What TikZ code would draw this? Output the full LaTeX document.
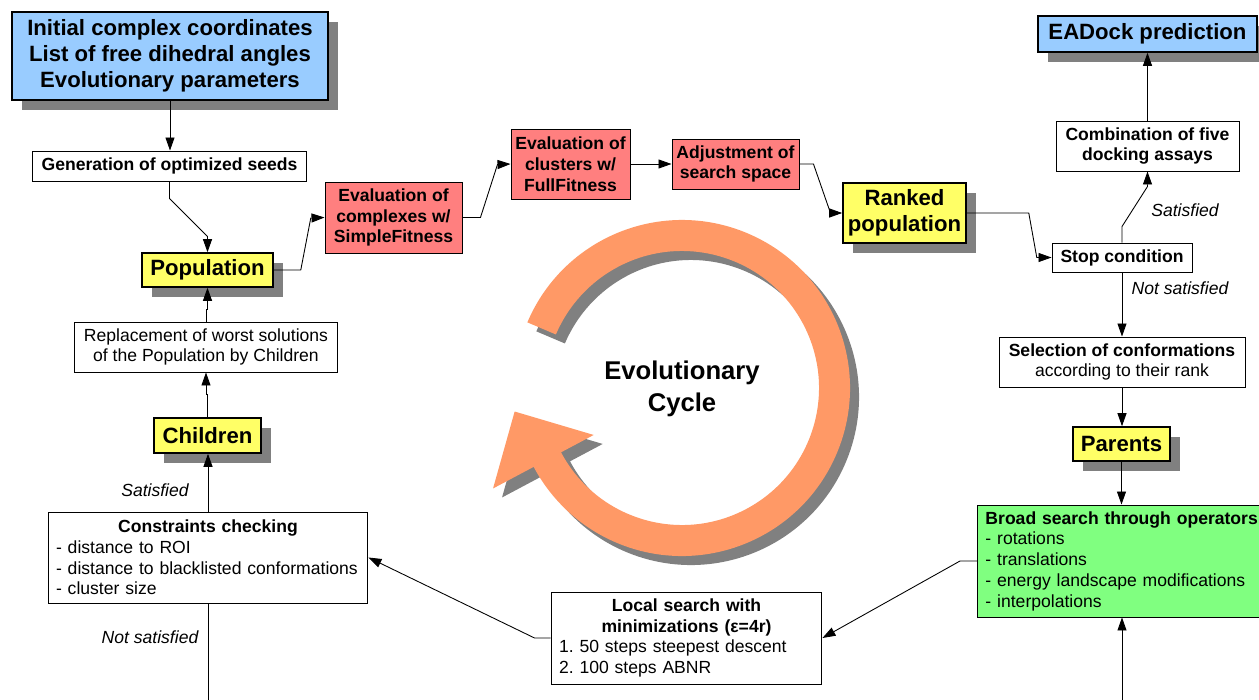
\documentclass[tikz,border=0pt]{standalone}
\usepackage{fontspec}
\setmainfont{Liberation Sans}
\usetikzlibrary{arrows.meta,shadows}
\frenchspacing

\definecolor{inblue}{HTML}{99CCFF}
\definecolor{popyellow}{HTML}{FFFF66}
\definecolor{evalred}{HTML}{FF7F7F}
\definecolor{opgreen}{HTML}{80FF80}
\definecolor{cycorange}{HTML}{FF9966}
\definecolor{shgray}{HTML}{808080}

\newcommand{\bigtxt}{\fontsize{12.6}{14.9}\selectfont\bfseries}
\newcommand{\midtxt}{\fontsize{10}{11.8}\selectfont}

\tikzset{
  box/.style={draw, line width=0.55pt, fill=white, inner sep=0pt, align=center, font=\midtxt\bfseries},
  keybox/.style={box, font=\bigtxt, line width=0.9pt,
    drop shadow={shadow xshift=0.2cm, shadow yshift=-0.2cm, opacity=1, fill=shgray}},
  listbox/.style={box, font=\midtxt, align=left, inner xsep=0.16cm},
  flow/.style={line width=0.5pt, -{Triangle[length=2.6mm,width=1.8mm]}},
  cond/.style={font=\midtxt\itshape},
}

\begin{document}
\begin{tikzpicture}[x=0.02cm, y=-0.02cm]
\useasboundingbox (0,0) rectangle (1259,700);

% the cycle arrow and its shadow
\foreach \d/\col in {9/shgray,0/cycorange}
  \fill[\col, shift={(682+\d,388+\d)}] (203:168)
    arc[start angle=203, end angle=512, radius=168] -- (512:214) -- (532:169)
    -- (512:100) -- (512:137) arc[start angle=512, end angle=203, radius=137] -- cycle;
\node[font=\fontsize{14.6}{18.1}\selectfont\bfseries, align=center] (cyc) at (682,389) {Evolutionary\\Cycle};

% left column
\node[keybox, fill=inblue, minimum width=6.32cm, minimum height=1.76cm] (init) at (170,56)
  {Initial complex coordinates\\List of free dihedral angles\\Evolutionary parameters};
\node[box, minimum width=5.5cm, minimum height=0.6cm] (seeds) at (169.5,166) {Generation of optimized seeds};
\node[keybox, fill=popyellow, minimum width=2.62cm, minimum height=0.68cm] (pop) at (207.5,270) {Population};
\node[box, font=\midtxt, minimum width=5.28cm, minimum height=1cm] (replace) at (206,347)
  {Replacement of worst solutions\\of the Population by Children};
\node[keybox, fill=popyellow, minimum width=2.14cm, minimum height=0.7cm] (children) at (207.5,435.5) {Children};
\node[listbox, minimum width=6.4cm, text width=6.08cm, minimum height=1.82cm] (check) at (208,557.5)
  {\makebox[\linewidth]{\bfseries Constraints checking}\\- distance to ROI\\- distance to blacklisted conformations\\- cluster size};

% top row
\node[box, fill=evalred, minimum width=2.74cm, minimum height=1.42cm] (simple) at (393.5,217.5) {Evaluation of\\complexes w/\\SimpleFitness};
\node[box, fill=evalred, minimum width=2.38cm, minimum height=1.4cm] (full) at (570.5,164) {Evaluation of\\clusters w/\\FullFitness};
\node[box, fill=evalred, minimum width=2.54cm, minimum height=1cm] (adjust) at (735.5,164) {Adjustment of\\search space};
\node[keybox, fill=popyellow, minimum width=2.46cm, minimum height=1.2cm] (ranked) at (904.5,213) {Ranked\\population};

% right column
\node[keybox, fill=inblue, minimum width=4.38cm, minimum height=0.72cm] (eadock) at (1147.5,34) {EADock prediction};
\node[box, minimum width=3.66cm, minimum height=1cm] (five) at (1147.5,146) {Combination of five\\docking assays};
\node[box, minimum width=2.8cm, minimum height=0.58cm] (stop) at (1122,257.5) {Stop condition};
\node[box, minimum width=4.92cm, minimum height=1cm] (select) at (1122,362) {Selection of conformations\\\mdseries according to their rank};
\node[keybox, fill=popyellow, minimum width=1.94cm, minimum height=0.68cm] (parents) at (1121.5,444) {Parents};
\node[listbox, fill=opgreen, anchor=west, minimum width=5.8cm, text width=5.48cm, minimum height=2.24cm] (broad) at (977,561)
  {\textbf{Broad search through operators}\\- rotations\\- translations\\- energy landscape modifications\\- interpolations};

% bottom
\node[listbox, minimum width=5.42cm, text width=5.1cm, minimum height=1.84cm] (local) at (686.5,638)
  {\makebox[\linewidth]{\bfseries Local search with}\\\makebox[\linewidth]{\bfseries minimizations (ε=4r)}\\1. 50 steps steepest descent\\2. 100 steps ABNR};
\coordinate (opin) at (1122,700);
\coordinate (rejout) at (208,700);

% connectors
\draw[flow] (init.south) -- (init.south |- seeds.north);
\draw[flow] (seeds.south) -- ++(0,17) -- ++(38,38) -- (pop.north);
\draw[flow] (pop.east) -- ++(27,0) -- ++(10,-52) -- (simple.west);
\draw[flow] (simple.east) -- ++(18,0) -- ++(17,-53) -- (full.west);
\draw[flow] (full) -- (adjust);
\draw[flow] (adjust.east) -- ++(14,0) -- ++(17,49) -- (ranked.west);
\draw[flow] (ranked.east) -- ++(62,0) -- ++(8,44.5) -- (stop.west);
\draw[flow] (stop.north) -- ++(0,-16) -- ++(25.5,-40) -- (five.south);
\draw[flow] (five) -- (eadock);
\draw[flow] (stop) -- (select);
\draw[flow] (select.south) -- (select.south |- parents.north);
\draw[flow] (parents.south) -- (parents.south |- broad.north);
\draw[flow] (opin) -- (opin |- broad.south);
\draw[flow] (broad.west) -- ++(-17,0) -- (local.east);
\draw[flow] (local.west) -- ++(-16,0) -- (check.east);
\draw[line width=0.5pt] (check.south) -- (rejout);
\draw[flow] (check.north) -- (check.north |- children.south);
\draw[flow] (children.north) -- ++(0,-23) -| (replace.south);
\draw[flow] (replace.north) -- ++(0,-12) -| (pop.south);

\node[cond] (satstop) at (1185,210) {Satisfied};
\node[cond] (nsatstop) at (1180,288) {Not satisfied};
\node[cond] (satcheck) at (155,490) {Satisfied};
\node[cond] (nsatcheck) at (150,637) {Not satisfied};
\end{tikzpicture}
\end{document}
